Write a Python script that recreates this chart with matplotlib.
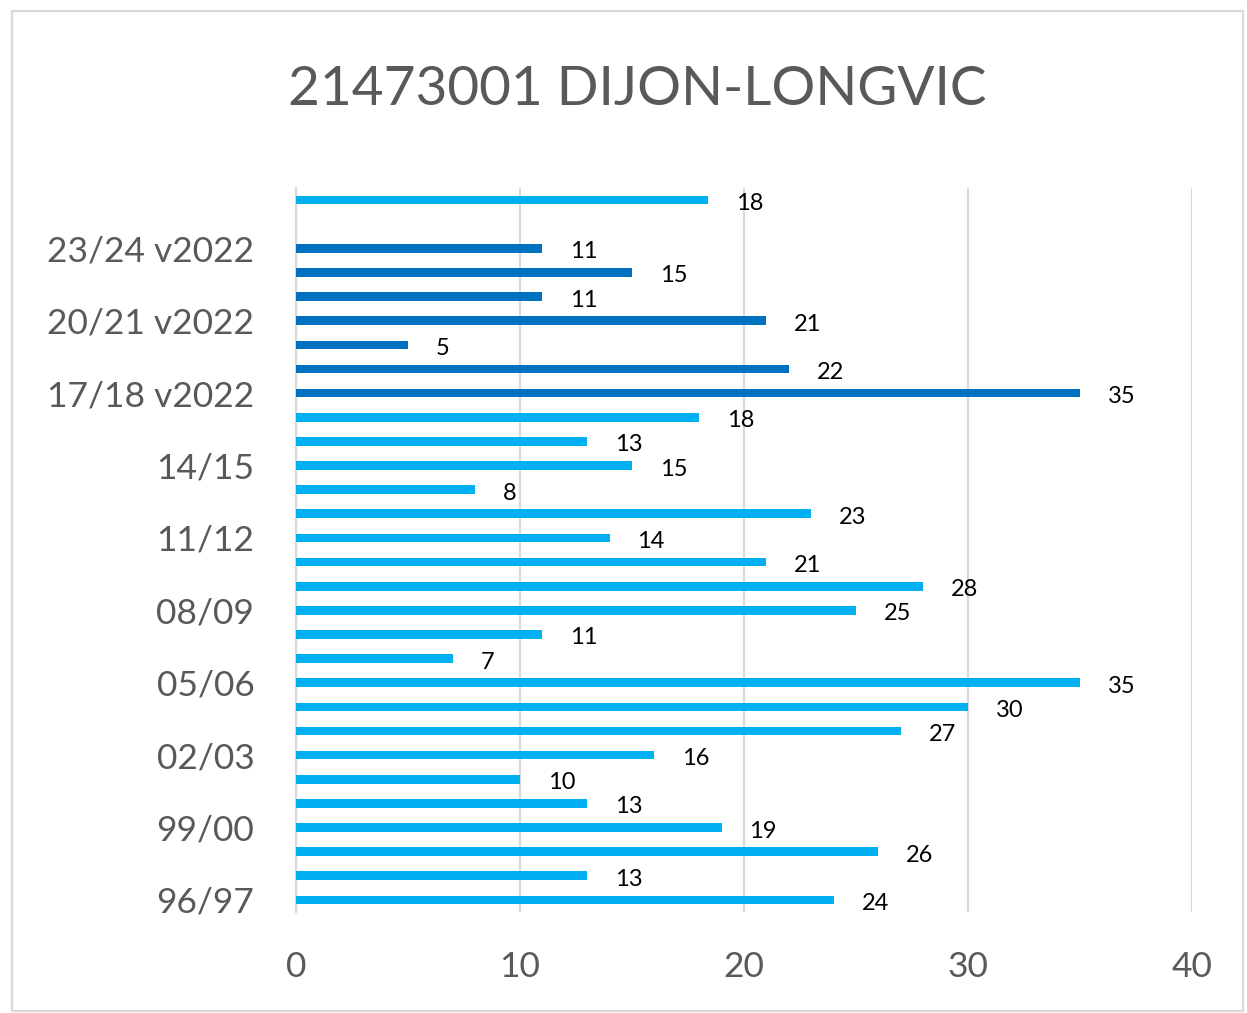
import numpy as np
import matplotlib.pyplot as plt
from matplotlib.patches import Rectangle

plt.rcParams['font.family'] = ['Lato', 'DejaVu Sans']

# categories bottom -> top
seasons = ["96/97", "97/98", "98/99", "99/00", "00/01", "01/02", "02/03", "03/04",
           "04/05", "05/06", "06/07", "07/08", "08/09", "09/10", "10/11", "11/12",
           "12/13", "13/14", "14/15", "15/16", "16/17",
           "17/18 v2022", "18/19 v2022", "19/20 v2022", "20/21 v2022",
           "21/22 v2022", "22/23 v2022", "23/24 v2022", "24/25 v2022", "24/25"]
values = [24, 13, 26, 19, 13, 10, 16, 27, 30, 35, 7, 11, 25, 28, 21, 14,
          23, 8, 15, 13, 18,
          35, 22, 5, 21, 11, 15, 11, np.nan, 18.4]
is_v2022 = [s.endswith("v2022") for s in seasons]

light = "#00B0F0"
dark = "#0070C0"
grey_txt = "#595959"
grid_c = "#D9D9D9"

fig = plt.figure(figsize=(12.47, 10.13), dpi=100)
ax = fig.add_axes([0.2374, 0.0997, 0.7185, 0.7147])

y = np.arange(len(seasons))
colors = [dark if v else light for v in is_v2022]
vals = np.nan_to_num(values, nan=0.0)
ax.barh(y, vals, height=0.36, color=colors, zorder=3)

for yi, v in zip(y, values):
    if np.isnan(v):
        continue
    ax.annotate(f"{v:.0f}", (v, yi), xytext=(20, -2.5), textcoords="offset points",
                ha="left", va="center", fontsize=17, color="#000000")

ax.set_xlim(0, 40)
ax.set_ylim(-0.5, len(seasons) - 0.5)
ax.set_xticks([0, 10, 20, 30, 40])
ax.set_yticks(y[::3])
ax.set_yticklabels(seasons[::3])
ax.tick_params(axis="both", length=0, labelsize=25.5, labelcolor=grey_txt)
ax.tick_params(axis="y", pad=30)
ax.tick_params(axis="x", pad=28)
ax.grid(axis="x", color=grid_c, linewidth=1.6, zorder=0)
for s in ["top", "right", "bottom"]:
    ax.spines[s].set_visible(False)
ax.spines["left"].set_color(grid_c)
ax.spines["left"].set_linewidth(1.6)

fig.text(0.511, 0.912, "21473001 DIJON-LONGVIC", ha="center", va="center",
         fontsize=39.5, color=grey_txt)

# outer chart border
fig.patches.append(Rectangle((0.0096, 0.002), 0.987, 0.987, transform=fig.transFigure,
                             fill=False, edgecolor=grid_c, linewidth=1.6))

fig.savefig("out.png", dpi=100)
